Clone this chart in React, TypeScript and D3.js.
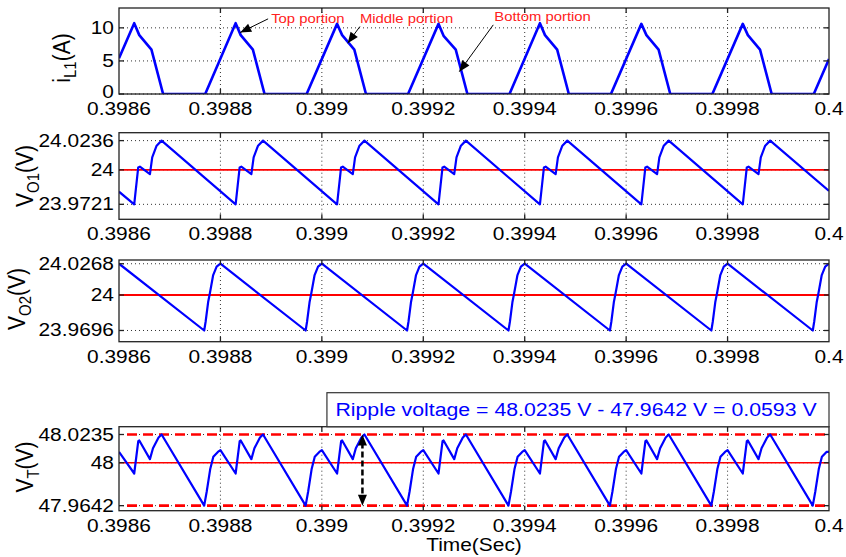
import * as d3 from "d3";

const W = 846;
const H = 557;
const LEFT = 119;
const RIGHT = 829;
const FONT = "'Liberation Sans', Arial, sans-serif";

const timeTicks = [0.3986, 0.3988, 0.399, 0.3992, 0.3994, 0.3996, 0.3998, 0.4];
const timeTickLabels = ["0.3986", "0.3988", "0.399", "0.3992", "0.3994", "0.3996", "0.3998", "0.4"];

const iL1Ticks = [0, 5, 10];
const iL1TickLabels = ["0", "5", "10"];
const vo1Ticks = [23.9721, 24, 24.0236];
const vo1TickLabels = ["23.9721", "24", "24.0236"];
const vo2Ticks = [23.9696, 24, 24.0268];
const vo2TickLabels = ["23.9696", "24", "24.0268"];
const vtTicks = [47.9642, 48, 48.0235];
const vtTickLabels = ["47.9642", "48", "48.0235"];

// inductor current i_L1 (A)
const iL1Wave: [number, number][] = [
  [0.3986, 5.4],
  [0.39863, 10.7], [0.39864, 8.9], [0.398664, 6.7], [0.398687, 0],
  [0.39877, 0], [0.39883, 10.7], [0.39884, 8.9], [0.398864, 6.7], [0.398887, 0],
  [0.39897, 0], [0.39903, 10.6], [0.39904, 8.9], [0.399064, 6.7], [0.399087, 0],
  [0.39917, 0], [0.39923, 10.6], [0.39924, 8.8], [0.399264, 6.7], [0.399287, 0],
  [0.39937, 0], [0.39943, 10.7], [0.39944, 8.9], [0.399464, 6.7], [0.399487, 0],
  [0.39957, 0], [0.39963, 10.6], [0.39964, 8.9], [0.399664, 6.7], [0.399687, 0],
  [0.39977, 0], [0.39983, 10.6], [0.39984, 8.9], [0.399864, 6.7], [0.399887, 0],
  [0.39997, 0], [0.4, 5.3],
];

// output voltage V_O1 (V)
const vo1Wave: [number, number][] = [
  [0.3986, 23.9823],
  [0.39863, 23.9721], [0.3986379, 24.0019], [0.3986412, 24.0025], [0.398661, 23.9965], [0.3986655, 24.01], [0.3986742, 24.0195], [0.398684, 24.0236],
  [0.39883, 23.9721], [0.3988379, 24.0019], [0.3988412, 24.0025], [0.398861, 23.9965], [0.3988655, 24.01], [0.3988742, 24.0195], [0.398884, 24.0236],
  [0.39903, 23.9721], [0.3990379, 24.0019], [0.3990412, 24.0025], [0.399061, 23.9965], [0.3990655, 24.01], [0.3990742, 24.0195], [0.399084, 24.0236],
  [0.39923, 23.9721], [0.3992379, 24.0019], [0.3992412, 24.0025], [0.399261, 23.9965], [0.3992655, 24.01], [0.3992742, 24.0195], [0.399284, 24.0236],
  [0.39943, 23.9721], [0.3994379, 24.0019], [0.3994412, 24.0025], [0.399461, 23.9965], [0.3994655, 24.01], [0.3994742, 24.0195], [0.399484, 24.0236],
  [0.39963, 23.9721], [0.3996379, 24.0019], [0.3996412, 24.0025], [0.399661, 23.9965], [0.3996655, 24.01], [0.3996742, 24.0195], [0.399684, 24.0236],
  [0.39983, 23.9721], [0.3998379, 24.0019], [0.3998412, 24.0025], [0.399861, 23.9965], [0.3998655, 24.01], [0.3998742, 24.0195], [0.399884, 24.0236],
  [0.4, 23.983],
];

// output voltage V_O2 (V)
const vo2Wave: [number, number][] = [
  [0.3986, 24.0268],
  [0.398768, 23.9696], [0.3987708, 23.9771], [0.3987759, 23.9943], [0.3987792, 24.0015], [0.3987857, 24.0171], [0.3987925, 24.0243], [0.3988, 24.0268],
  [0.398968, 23.9696], [0.3989708, 23.9771], [0.3989759, 23.9943], [0.3989792, 24.0015], [0.3989857, 24.0171], [0.3989925, 24.0243], [0.399, 24.0268],
  [0.399168, 23.9696], [0.3991708, 23.9771], [0.3991759, 23.9943], [0.3991792, 24.0015], [0.3991857, 24.0171], [0.3991925, 24.0243], [0.3992, 24.0268],
  [0.399368, 23.9696], [0.3993708, 23.9771], [0.3993759, 23.9943], [0.3993792, 24.0015], [0.3993857, 24.0171], [0.3993925, 24.0243], [0.3994, 24.0268],
  [0.399568, 23.9696], [0.3995708, 23.9771], [0.3995759, 23.9943], [0.3995792, 24.0015], [0.3995857, 24.0171], [0.3995925, 24.0243], [0.3996, 24.0268],
  [0.399768, 23.9696], [0.3997708, 23.9771], [0.3997759, 23.9943], [0.3997792, 24.0015], [0.3997857, 24.0171], [0.3997925, 24.0243], [0.3998, 24.0268],
  [0.399968, 23.9696], [0.3999708, 23.9771], [0.3999759, 23.9943], [0.3999792, 24.0015], [0.3999857, 24.0171], [0.3999925, 24.0243], [0.4, 24.0268],
];

// total output voltage V_T (V)
const vtWave: [number, number][] = [
  [0.3986, 48.009], [0.39863, 47.991], [0.398638, 48.018], [0.39864, 48.0185], [0.398661, 48.003], [0.398667, 48.012], [0.398678, 48.021], [0.398684, 48.0235],
  [0.398768, 47.9642], [0.398773, 47.976], [0.39878, 47.995], [0.398786, 48.005], [0.398795, 48.009],
  [0.3988, 48.0105], [0.39883, 47.991], [0.398838, 48.018], [0.39884, 48.0185], [0.398861, 48.003], [0.398867, 48.012], [0.398878, 48.021], [0.398884, 48.0235],
  [0.398968, 47.9642], [0.398973, 47.976], [0.39898, 47.995], [0.398986, 48.005], [0.398995, 48.009],
  [0.399, 48.0105], [0.39903, 47.991], [0.399038, 48.018], [0.39904, 48.0185], [0.399061, 48.003], [0.399067, 48.012], [0.399078, 48.021], [0.399084, 48.0235],
  [0.399168, 47.9642], [0.399173, 47.976], [0.39918, 47.995], [0.399186, 48.005], [0.399195, 48.009],
  [0.3992, 48.0105], [0.39923, 47.991], [0.399238, 48.018], [0.39924, 48.0185], [0.399261, 48.003], [0.399267, 48.012], [0.399278, 48.021], [0.399284, 48.0235],
  [0.399368, 47.9642], [0.399373, 47.976], [0.39938, 47.995], [0.399386, 48.005], [0.399395, 48.009],
  [0.3994, 48.0105], [0.39943, 47.991], [0.399438, 48.018], [0.39944, 48.0185], [0.399461, 48.003], [0.399467, 48.012], [0.399478, 48.021], [0.399484, 48.0235],
  [0.399568, 47.9642], [0.399573, 47.976], [0.39958, 47.995], [0.399586, 48.005], [0.399595, 48.009],
  [0.3996, 48.0105], [0.39963, 47.991], [0.399638, 48.018], [0.39964, 48.0185], [0.399661, 48.003], [0.399667, 48.012], [0.399678, 48.021], [0.399684, 48.0235],
  [0.399768, 47.9642], [0.399773, 47.976], [0.39978, 47.995], [0.399786, 48.005], [0.399795, 48.009],
  [0.3998, 48.0105], [0.39983, 47.991], [0.399838, 48.018], [0.39984, 48.0185], [0.399861, 48.003], [0.399867, 48.012], [0.399878, 48.021], [0.399884, 48.0235],
  [0.399968, 47.9642], [0.399973, 47.976], [0.39998, 47.995], [0.399986, 48.005], [0.399995, 48.009],
  [0.4, 48.009],
];

const vRef1 = 24;
const vRef2 = 24;
const vRefT = 48;
const vtMax = 48.0235;
const vtMin = 47.9642;
const rippleTime = 0.39908;
const rippleText = "Ripple voltage = 48.0235 V - 47.9642 V = 0.0593 V";
const portionLabels = ["Top portion", "Middle portion", "Bottom portion"];

const x = d3.scaleLinear().domain([0.3986, 0.4]).range([LEFT, RIGHT]);

function Txt({ x, y, size, anchor = "middle", fill = "#000", sx = 1.1, children }: any) {
  return (
    <text
      transform={`translate(${x},${y}) scale(${sx},1)`}
      fontSize={size}
      textAnchor={anchor}
      fill={fill}
      fontFamily={FONT}
    >
      {children}
    </text>
  );
}

function arrowHead(x1: number, y1: number, x2: number, y2: number, len: number, half: number) {
  const a = Math.atan2(y2 - y1, x2 - x1);
  const bx = x2 - len * Math.cos(a);
  const by = y2 - len * Math.sin(a);
  const px = -Math.sin(a) * half;
  const py = Math.cos(a) * half;
  return `${x2},${y2} ${bx + px},${by + py} ${bx - px},${by - py}`;
}

function Panel({ id, top, bottom, domain, ticks, tickLabels, wave, refLine, lineWidth, label, sub, unit, labelX, labelY, children }: any) {
  const y = d3.scaleLinear().domain(domain).range([bottom, top]);
  const line = d3.line<[number, number]>().x((d) => x(d[0])).y((d) => y(d[1]));
  const inner = timeTicks.slice(1, -1);
  return (
    <g>
      <defs>
        <clipPath id={id}>
          <rect x={LEFT} y={top} width={RIGHT - LEFT} height={bottom - top} />
        </clipPath>
      </defs>
      <rect x={LEFT} y={top} width={RIGHT - LEFT} height={bottom - top} fill="#fff" />
      {inner.map((t: number) => (
        <line key={"gx" + t} x1={x(t)} x2={x(t)} y1={top} y2={bottom} stroke="#333" strokeWidth={1} strokeDasharray="1,3" />
      ))}
      {ticks.map((v: number) => (
        <line key={"gy" + v} x1={LEFT} x2={RIGHT} y1={y(v)} y2={y(v)} stroke="#333" strokeWidth={1} strokeDasharray="1,3" />
      ))}
      <g clipPath={`url(#${id})`}>
        {refLine !== undefined && (
          <line x1={LEFT} x2={RIGHT} y1={y(refLine)} y2={y(refLine)} stroke="#ff0000" strokeWidth={id === "c4" ? 1.5 : 1.8} />
        )}
        {children && children(y, "under")}
        <path d={line(wave) || ""} fill="none" stroke="#0000ff" strokeWidth={lineWidth} strokeLinejoin="round" />
      </g>
      {children && children(y, "over")}
      <rect x={LEFT} y={top} width={RIGHT - LEFT} height={bottom - top} fill="none" stroke="#222" strokeWidth={1.3} />
      {inner.map((t: number) => (
        <g key={"tx" + t}>
          <line x1={x(t)} x2={x(t)} y1={bottom} y2={bottom - 5} stroke="#222" strokeWidth={1.3} />
          <line x1={x(t)} x2={x(t)} y1={top} y2={top + 5} stroke="#222" strokeWidth={1.3} />
        </g>
      ))}
      {ticks.map((v: number) => (
        <g key={"ty" + v}>
          <line x1={LEFT} x2={LEFT + 5} y1={y(v)} y2={y(v)} stroke="#222" strokeWidth={1.3} />
          <line x1={RIGHT} x2={RIGHT - 5} y1={y(v)} y2={y(v)} stroke="#222" strokeWidth={1.3} />
        </g>
      ))}
      {timeTicks.map((t: number, i: number) => (
        <Txt key={"lx" + t} x={x(t)} y={bottom + 21} size={19}>
          {timeTickLabels[i]}
        </Txt>
      ))}
      {ticks.map((v: number, i: number) => (
        <Txt key={"ly" + v} x={LEFT - 5} y={Math.min(y(v) + 6, bottom + 4)} size={19} anchor="end">
          {tickLabels[i]}
        </Txt>
      ))}
      <text
        transform={`translate(${labelX},${labelY}) rotate(-90) scale(1,1.1)`}
        fontSize={21}
        textAnchor="middle"
        fontFamily={FONT}
        fill="#000"
      >
        {label}
        <tspan fontSize={15} dy={5}>{sub}</tspan>
        <tspan dy={-5}>{unit}</tspan>
      </text>
    </g>
  );
}

export default function App() {
  const p4Top = 426.7;
  return (
    <svg width={W} height={H} style={{ position: "absolute", left: 0, top: 0, background: "#fff" }}>
      <rect width={W} height={H} fill="#fff" />
      <Panel
        id="c1" top={8} bottom={94} domain={[0, 13]} ticks={iL1Ticks} tickLabels={iL1TickLabels}
        wave={iL1Wave} lineWidth={2.6} label="i" sub="L1" unit="(A)" labelX={70} labelY={58}
      >
        {(y: any, layer: string) => {
          if (layer !== "over") return null;
          const anchors = [
            { text: [0.3989, 10.68], tail: [0.398894, 11.36], tip: [0.398839, 9.29] },
            { text: [0.399075, 10.68], tail: [0.399075, 10.2], tip: [0.399051, 7.68] },
            { text: [0.39934, 10.98], tail: [0.399338, 10.45], tip: [0.399271, 3.38] },
          ];
          return anchors.map((a, i) => {
            const x1 = x(a.tail[0]), y1 = y(a.tail[1]), x2 = x(a.tip[0]), y2 = y(a.tip[1]);
            return (
              <g key={portionLabels[i]}>
                <line x1={x1} y1={y1} x2={x2} y2={y2} stroke="#000" strokeWidth={1} />
                <polygon points={arrowHead(x1, y1, x2, y2, 11, 4.5)} fill="#000" />
                <Txt x={x(a.text[0])} y={y(a.text[1])} size={13.5} anchor="start" fill="#ff2020">
                  {portionLabels[i]}
                </Txt>
              </g>
            );
          });
        }}
      </Panel>
      <Panel
        id="c2" top={132.7} bottom={219.3} domain={[23.96, 24.03]} ticks={vo1Ticks} tickLabels={vo1TickLabels}
        wave={vo1Wave} refLine={vRef1} lineWidth={2.2} label="V" sub="O1" unit="(V)" labelX={33} labelY={176}
      />
      <Panel
        id="c3" top={260} bottom={341.7} domain={[23.96, 24.03]} ticks={vo2Ticks} tickLabels={vo2TickLabels}
        wave={vo2Wave} refLine={vRef2} lineWidth={2.2} label="V" sub="O2" unit="(V)" labelX={25} labelY={299}
      />
      <Panel
        id="c4" top={p4Top} bottom={510.7} domain={[47.96, 48.03]} ticks={vtTicks} tickLabels={vtTickLabels}
        wave={vtWave} refLine={vRefT} lineWidth={2.2} label="V" sub="T" unit="(V)" labelX={33} labelY={467}
      >
        {(y: any, layer: string) => {
          if (layer === "under") {
            return [vtMax, vtMin].map((v) => (
              <line key={"rp" + v} x1={LEFT + 8} x2={RIGHT} y1={y(v)} y2={y(v)} stroke="#ff0000" strokeWidth={2.6} strokeDasharray="10,6" />
            ));
          }
          const ax = x(rippleTime);
          const yt = y(vtMax);
          const yb = y(vtMin);
          return (
            <g>
              <line x1={ax} x2={ax} y1={yt + 8} y2={yb - 8} stroke="#000" strokeWidth={2.5} strokeDasharray="6,3" />
              <polygon points={arrowHead(ax, yb, ax, yt, 11, 4.5)} fill="#000" />
              <polygon points={arrowHead(ax, yt, ax, yb, 11, 4.5)} fill="#000" />
            </g>
          );
        }}
      </Panel>
      <rect x={x(0.39901)} y={p4Top - 34} width={RIGHT - x(0.39901)} height={34} fill="#fff" stroke="#333" strokeWidth={1.2} />
      <Txt x={x(0.39901) + 8.5} y={p4Top - 10.5} size={19} anchor="start" fill="#0000ff" sx={1.12}>
        {rippleText}
      </Txt>
      <Txt x={(LEFT + RIGHT) / 2} y={551} size={19}>
        Time(Sec)
      </Txt>
    </svg>
  );
}
